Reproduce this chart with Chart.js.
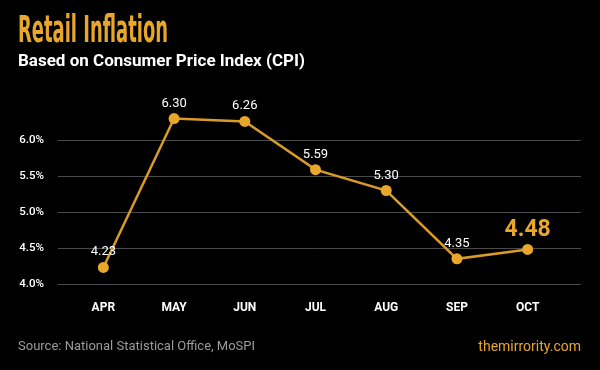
<!DOCTYPE html>
<html>
<head>
<meta charset="utf-8">
<script src="https://cdn.jsdelivr.net/npm/chart.js@4.4.1/dist/chart.umd.min.js"></script>
<style>
  html, body { margin: 0; padding: 0; background: #000; }
  #wrap { position: relative; width: 600px; height: 370px; overflow: hidden; background: #000; }
  #chart { position: absolute; left: 0; top: 0; }
  .txt { position: absolute; white-space: nowrap; font-family: Roboto, 'Noto Sans', sans-serif; }
  #title { left: 18px; top: 8px; color: #E8A72A; font-family: 'Liberation Sans Narrow', 'DejaVu Sans Condensed', 'Liberation Sans', sans-serif;
           font-weight: bold; font-size: 37px; line-height: 44px; transform-origin: 0 0; }
  #subtitle { left: 18px; top: 50px; color: #fff; font-weight: bold; font-size: 17px; line-height: 21px; }
  #source { left: 18px; top: 337px; color: #9b9b9b; font-size: 13px; line-height: 18px; }
  #brand { right: 19px; top: 337px; color: #E8A72A; font-size: 14px; line-height: 18px; }
</style>
</head>
<body>
<div id="wrap">
  <canvas id="chart" width="600" height="370"></canvas>
  <div class="txt" id="title">Retail Inflation</div>
  <div class="txt" id="subtitle">Based on Consumer Price Index (CPI)</div>
  <div class="txt" id="source">Source: National Statistical Office, MoSPI</div>
  <div class="txt" id="brand">themirrority.com</div>
</div>
<script>
// data
const months = ['APR', 'MAY', 'JUN', 'JUL', 'AUG', 'SEP', 'OCT'];
const cpi = [4.23, 6.30, 6.26, 5.59, 5.30, 4.35, 4.48];
const yTicks = [4.0, 4.5, 5.0, 5.5, 6.0];

const GOLD = '#E8A72A';
const LINE = '#D99B25';

// squeeze title to the condensed width of the original
(function () {
  const t = document.getElementById('title');
  const w = t.getBoundingClientRect().width;
  if (w > 0) t.style.transform = 'scaleX(' + (150 / w) + ')';
})();

// grid lines run a bit wider than the plot area
const wideGrid = {
  id: 'wideGrid',
  beforeDatasetsDraw(chart) {
    const { ctx, chartArea, scales } = chart;
    ctx.save();
    ctx.strokeStyle = '#4b4b4b';
    ctx.lineWidth = 1;
    yTicks.forEach(v => {
      const y = Math.round(scales.y.getPixelForValue(v)) + 0.5;
      ctx.beginPath();
      ctx.moveTo(chartArea.left - 10, y);
      ctx.lineTo(chartArea.right + 18, y);
      ctx.stroke();
    });
    ctx.restore();
  }
};

// value labels over points, last one big and gold
const valueLabels = {
  id: 'valueLabels',
  afterDatasetsDraw(chart) {
    const { ctx } = chart;
    const meta = chart.getDatasetMeta(0);
    ctx.save();
    ctx.textAlign = 'center';
    ctx.textBaseline = 'alphabetic';
    meta.data.forEach((pt, i) => {
      const last = i === cpi.length - 1;
      ctx.fillStyle = last ? GOLD : '#ffffff';
      ctx.font = last ? 'bold 23px Roboto' : '13px Roboto';
      ctx.fillText(cpi[i].toFixed(2), pt.x, pt.y - (last ? 13 : 12));
    });
    ctx.restore();
  }
};

new Chart(document.getElementById('chart'), {
  type: 'line',
  data: {
    labels: months,
    datasets: [{
      data: cpi,
      borderColor: LINE,
      borderWidth: 2.5,
      backgroundColor: GOLD,
      pointBackgroundColor: GOLD,
      pointBorderColor: GOLD,
      pointRadius: 5.5,
      pointBorderWidth: 0,
      tension: 0,
      fill: false
    }]
  },
  options: {
    responsive: false,
    animation: false,
    layout: { padding: { left: 0, right: 37, top: 97, bottom: 46 } },
    plugins: { legend: { display: false }, tooltip: { enabled: false } },
    scales: {
      x: {
        offset: true,
        grid: { display: false, drawTicks: false },
        border: { display: false },
        ticks: { color: '#fff', padding: 17, font: { family: 'Roboto', size: 12, weight: 'bold' } },
        afterFit(s) { s.height = 40; }
      },
      y: {
        min: 4.0,
        max: 6.6,
        grid: { display: false, drawTicks: false },
        border: { display: false },
        afterBuildTicks(s) { s.ticks = yTicks.map(v => ({ value: v })); },
        afterFit(s) { s.width = 68; },
        ticks: {
          color: '#fff',
          padding: 24,
          font: { family: 'Roboto', size: 11.5, weight: '500' },
          callback: v => v.toFixed(1) + '%'
        }
      }
    }
  },
  plugins: [wideGrid, valueLabels]
});
</script>
</body>
</html>
